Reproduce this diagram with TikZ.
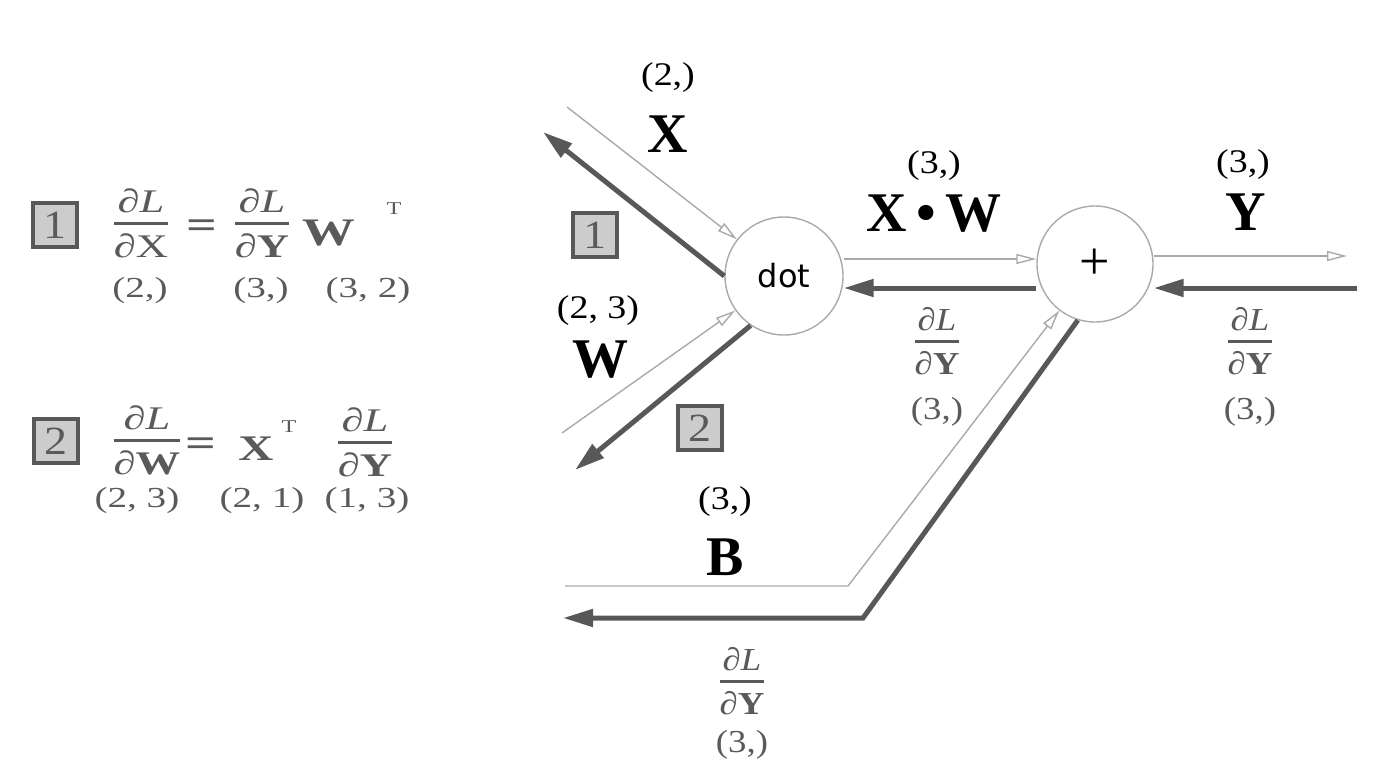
\documentclass[tikz,border=0pt]{standalone}
\usepackage{fontspec}
\setmainfont{Liberation Serif}
\newfontfamily\dotfont{DejaVu Sans}
\newfontfamily\wideserif[FakeStretch=1.35]{Liberation Serif}
\newfontfamily\midserif[FakeStretch=1.15]{Liberation Serif}
\usetikzlibrary{arrows.meta,calc}
\definecolor{fg}{HTML}{AAAAAA}
\definecolor{bkc}{HTML}{585858}
\definecolor{tg}{HTML}{5A5A5A}
\definecolor{bx}{HTML}{CCCCCC}
\newcommand\fsz[1]{\fontsize{#1}{#1}\selectfont}
\setlength{\arrayrulewidth}{2.2pt}
\newcommand\dfr[2]{\begin{tabular}{@{}c@{}}#1\\[0pt]\hline\noalign{\vskip 9pt}#2\end{tabular}}
\begin{document}
\begin{tikzpicture}[x=1pt,y=-1pt,
  fwd/.style={draw=fg, line width=1.4pt, -{Triangle[open,length=20pt,width=10pt]}},
  back/.style={draw=bkc, line width=5pt, -{Triangle[length=30pt,width=17pt]}},
  op/.style={circle, draw=fg, line width=1.4pt, minimum size=118pt, inner sep=0pt},
  numbox/.style={draw=bkc, line width=3.5pt, fill=bx, minimum size=44pt, inner sep=0pt, text=tg, font=\midserif\fsz{40}},
  shp/.style={font=\midserif\fsz{33}},
  var/.style={font=\fsz{56}\bfseries},
  gshp/.style={font=\midserif\fsz{32}, text=tg},
  gfr/.style={font=\midserif\fsz{32}, text=tg, inner sep=0pt},
  lshp/.style={font=\wideserif\fsz{29}, text=tg},
  gfrl/.style={font=\wideserif\fsz{33}, text=tg, inner sep=0pt},
  gsym/.style={font=\wideserif\fsz{36}\bfseries, text=tg},
  geq/.style={font=\wideserif\fsz{40}\bfseries, text=tg},
  sup/.style={font=\wideserif\fsz{18}, text=tg},
]
\fill[white] (0,0) rectangle (1382,782);
\useasboundingbox (0,0) rectangle (1382,782);

% ---- left formulas ----
\node[numbox] (b1) at (55,225) {1};
\node[gfrl] (f1a) at (141,228) {\dfr{∂\textit{L}}{∂X}};
\node[geq] (eq1) at (202,229) {=};
\node[gfrl] (f1b) at (262,228) {\dfr{∂\textit{L}}{∂\textbf{Y}}};
\node[gsym, font=\wideserif\fsz{39}\bfseries] (w1) at (329,233) {W};
\node[sup] (t1) at (394,209) {T};
\node[lshp] (s1a) at (140,291) {(2,)};
\node[lshp] (s1b) at (261,291) {(3,)};
\node[lshp] (s1c) at (368,291) {(3, 2)};

\node[numbox] (b2) at (56,441) {2};
\node[gfrl] (f2a) at (147,445) {\dfr{∂\textit{L}}{∂\textbf{W}}};
\node[geq] (eq2) at (201,447) {=};
\node[gsym] (x2) at (256,449) {X};
\node[sup] (t2) at (289,427) {T};
\node[gfrl] (f2b) at (365,447) {\dfr{∂\textit{L}}{∂\textbf{Y}}};
\node[lshp] (s2a) at (137,501) {(2, 3)};
\node[lshp] (s2b) at (262,501) {(2, 1)};
\node[lshp] (s2c) at (367,501) {(1, 3)};

% ---- graph ----
\node[op] (dot) at (784,276) {\dotfont\fsz{32}dot};
\node[op, minimum size=116pt] (plus) at (1095,264) {\fsz{54}+};

\node[shp] (xs1) at (668,78) {(2,)};
\node[var] (xv) at (668,134) {X};
\node[shp] (xws) at (934,166) {(3,)};
\node[var] (xwv) at (934,214) {X\,•\,W};
\node[shp] (ysh) at (1243,165) {(3,)};
\node[var] (yv) at (1246,212) {Y};
\node[shp] (wsh) at (598,311) {(2, 3)};
\node[var] (wv) at (600,360) {W};
\node[shp] (bsh) at (725,502) {(3,)};
\node[var] (bv) at (725,557) {B};

\node[numbox] (nb1) at (595,235) {1};
\node[numbox] (nb2) at (700,428) {2};

\node[gfr] (g1) at (937,346) {\dfr{∂\textit{L}}{∂\textbf{Y}}};
\node[gshp] (g1s) at (937,412) {(3,)};
\node[gfr] (g2) at (1250,346) {\dfr{∂\textit{L}}{∂\textbf{Y}}};
\node[gshp] (g2s) at (1250,412) {(3,)};
\node[gfr] (g3) at (742,686) {\dfr{∂\textit{L}}{∂\textbf{Y}}};
\node[gshp] (g3s) at (742,745) {(3,)};

\coordinate (xs) at (567,107);
\coordinate (xe) at (543,132);
\coordinate (ws) at (562,433);
\coordinate (we) at (575,470);
\coordinate (ye) at (1347,256);
\coordinate (ys) at (1357,288);
\coordinate (bs) at (565,586);
\coordinate (bc1) at (848,586);
\coordinate (bc2) at (863,618);
\coordinate (be) at (563,618);

\draw[fwd] (xs) -- (dot);
\draw[fwd] (ws) -- (dot);
\draw[fwd] ($(dot.east)+(0,-17)$) -- ($(plus.west)+(0,-5)$);
\draw[fwd] ($(plus.east)+(0,-8)$) -- (ye);
\draw[fwd] (bs) -- (bc1) -- (plus);

\draw[back] (dot.west) -- (xe);
\draw[back] (dot.236) -- (we);
\draw[back] ($(plus.west)+(0,24)$) -- ($(dot.east)+(0,12)$);
\draw[back] (ys) -- ($(plus.east)+(0,24)$);
\draw[back] (plus.253) -- (bc2) -- (be);
\end{tikzpicture}
\end{document}
